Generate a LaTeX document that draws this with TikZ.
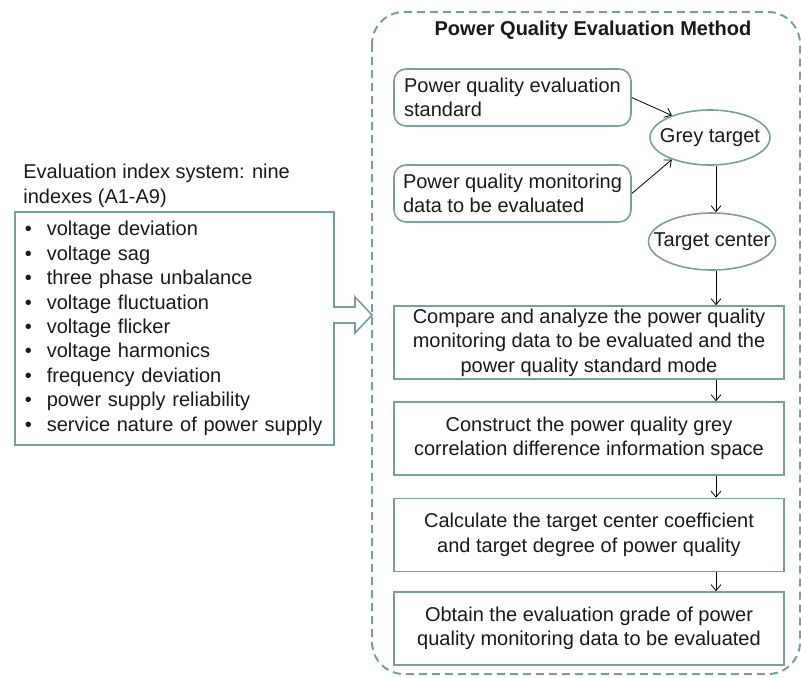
\documentclass[tikz,border=0pt]{standalone}
\usepackage{fontspec}
\setmainfont{Liberation Sans}
\usetikzlibrary{arrows.meta,shapes.geometric}
\definecolor{framecolor}{RGB}{122,158,160}
\newcommand\bul{\makebox[11pt][l]{\textbullet}}

\begin{document}
\begin{tikzpicture}[x=0.5pt,y=-0.5pt,
    every node/.style={font=\fontsize{10}{12.2}\selectfont,text=black!90},
    roundbox/.style={draw=framecolor,line width=0.8pt,rounded corners=6pt,minimum width=118.5pt,inner xsep=4pt,inner ysep=0pt,minimum height=28.5pt,align=left},
    stepbox/.style={draw=framecolor,line width=0.8pt,minimum width=195pt,minimum height=36.5pt,inner sep=0pt,align=center},
    targetell/.style={ellipse,draw=framecolor,line width=0.8pt,inner sep=0pt},
    flow/.style={-{Straight Barb[length=3pt,width=5pt]},line width=0.4pt,black}]
  \useasboundingbox (0,0) rectangle (801,677);
  \draw[framecolor,line width=1pt,dash pattern=on 4pt off 2.5pt,rounded corners=16pt] (372,12) rectangle (800,674);
  \node[font=\bfseries\fontsize{10}{12.2}\selectfont] (title) at (593,30) {Power Quality Evaluation Method};
  \node[roundbox] (std) at (512.5,97.5) {Power quality evaluation\\standard};
  \node[roundbox] (mon) at (512.5,193.5) {Power quality monitoring\\data to be evaluated};
  \node[targetell,minimum width=60pt,minimum height=27.5pt,label=center:Grey target] (gt) at (710,137.5) {};
  \node[targetell,minimum width=63.5pt,minimum height=28.5pt,label=center:Target center] (tc) at (712,241.5) {};
  \node[stepbox] (s1) at (589,342.5) {Compare and analyze the power quality\\monitoring data to be evaluated and the\\power quality standard mode};
  \node[stepbox] (s2) at (589,438.5) {Construct the power quality grey\\correlation difference information space};
  \node[stepbox] (s3) at (589,535) {Calculate the target center coefficient\\and target degree of power quality};
  \node[stepbox] (s4) at (589,628.5) {Obtain the evaluation grade of power\\quality monitoring data to be evaluated};
  \coordinate (ax) at (716,0);
  \draw[flow] (std.east) -- (gt.150);
  \draw[flow] (mon.east) -- (gt.210);
  \draw[flow] (gt.south -| ax) -- (tc.north -| ax);
  \foreach \a/\b in {tc/s1,s1/s2,s2/s3,s3/s4}
    \draw[flow] (\a.south -| ax) -- (\b.north -| ax);
  \node[anchor=north west,align=left,inner sep=0pt] (hdr) at (23,164) {Evaluation index system: nine\\indexes (A1-A9)};
  \node[draw=framecolor,line width=0.8pt,anchor=north west,text width=149.5pt,inner xsep=5pt,inner ysep=0pt,minimum height=116.5pt,align=left] (idx) at (14,211)
    {\bul voltage deviation\\\bul voltage sag\\\bul three phase unbalance\\\bul voltage fluctuation\\\bul voltage flicker\\\bul voltage harmonics\\\bul frequency deviation\\\bul power supply reliability\\\bul service nature of power supply};
  \draw[framecolor,line width=0.8pt,fill=white] (333,307) -- (355,307) -- (355,297) -- (372,315) -- (355,333) -- (355,323) -- (333,323);
\end{tikzpicture}
\end{document}
